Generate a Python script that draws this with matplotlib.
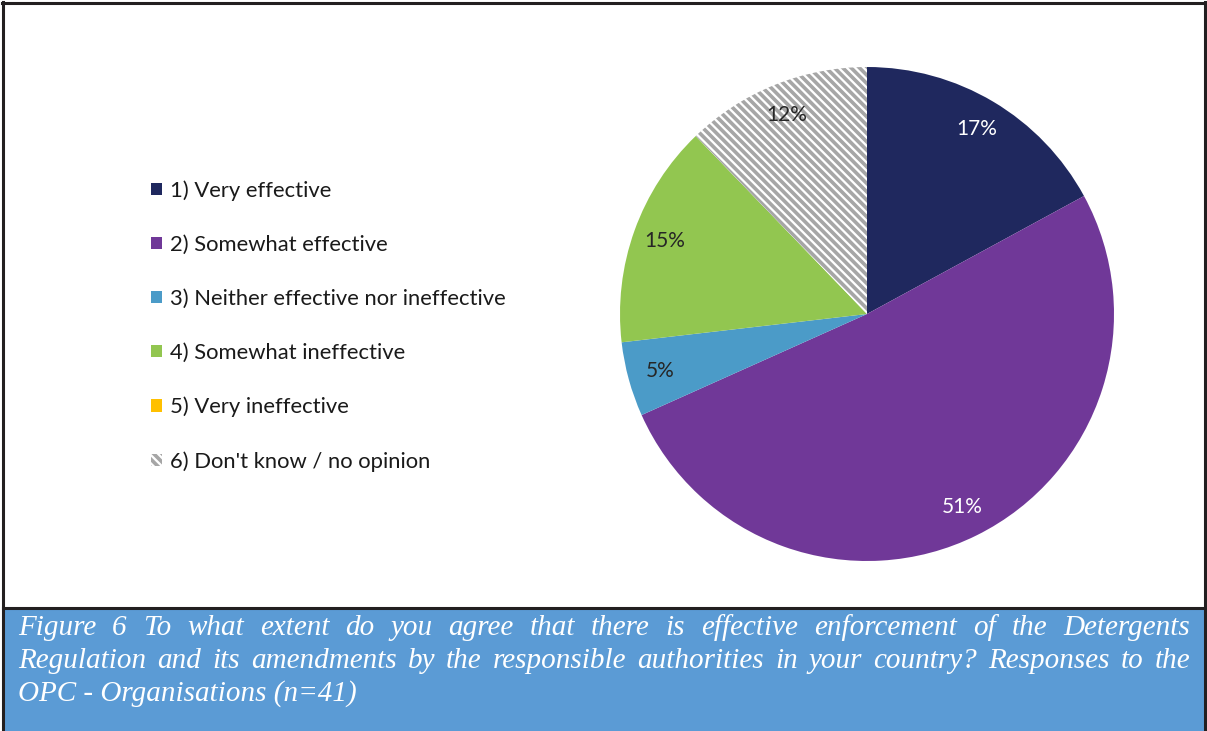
import matplotlib
matplotlib.use("Agg")
import matplotlib.pyplot as plt
from matplotlib.patches import Rectangle

# ---- data ----
categories = ["1) Very effective", "2) Somewhat effective",
              "3) Neither effective nor ineffective", "4) Somewhat ineffective",
              "5) Very ineffective", "6) Don't know / no opinion"]
counts = [7, 21, 2, 6, 0, 5]
colors = ["#1F285E", "#703898", "#4B9BC8", "#92C650", "#FFC000", "#FFFFFF"]
label_colors = ["white", "white", "#262626", "#262626", "#262626", "#262626"]
caption_lines = [
    "Figure 6 To what extent do you agree that there is effective enforcement of the Detergents",
    "Regulation and its amendments by the responsible authorities in your country? Responses to the",
    "OPC - Organisations (n=41)",
]

W, H = 1207, 731
plt.rcParams['hatch.linewidth'] = 2.6
fig = plt.figure(figsize=(W / 100, H / 100), dpi=100)

def px(x, y, w, h):
    return [x / W, 1 - (y + h) / H, w / W, h / H]

# background frame
bg = fig.add_axes([0, 0, 1, 1])
bg.set_xlim(0, W); bg.set_ylim(H, 0); bg.axis('off')
bg.add_patch(Rectangle((3, 608), 1202, 130, facecolor="#5B9BD5", edgecolor="none"))
bg.plot([3, 3], [2, H], color="#231F20", lw=2.2)
bg.plot([2, 1205], [3, 3], color="#231F20", lw=2.2)
bg.plot([1205, 1205], [2, H], color="#231F20", lw=2.2)
bg.plot([3, 1205], [607.5, 607.5], color="#231F20", lw=2.2)

# pie
cx, cy, R = 867, 314, 247
half = 252
ax = fig.add_axes(px(cx - half, cy - half, 2 * half, 2 * half))

def fmt(p):
    return "" if p < 0.5 else f"{p:.0f}%"

wedges, texts, autotexts = ax.pie(counts, colors=colors, startangle=90, counterclock=False,
                                  autopct=fmt, pctdistance=0.87,
                                  wedgeprops=dict(linewidth=0),
                                  textprops=dict(fontsize=15, family="Lato"))
ax.set_xlim(-half / R, half / R); ax.set_ylim(-half / R, half / R)
ax.set_aspect('equal'); ax.axis('off')
for t, c in zip(autotexts, label_colors):
    t.set_color(c)
hw = wedges[5]
hw.set_hatch('\\\\\\\\')
hw.set_edgecolor("#A6A6A6")
hw.set_linewidth(0)

# legend
leg = fig.legend(wedges, categories, loc='upper left',
                 bbox_to_anchor=(151 / W, 1 - 180 / H), frameon=False,
                 prop=dict(family="Lato", size=15.8), labelcolor="#1a1a1a",
                 handlelength=0.5, handleheight=0.5, handletextpad=0.35,
                 labelspacing=1.55, borderpad=0, borderaxespad=0)

# caption, justified
fig.canvas.draw()
r = fig.canvas.get_renderer()
left, right = 18, 1190
baselines = [635, 668, 701]
fs = 21
for i, line in enumerate(caption_lines):
    words = line.split(" ")
    if i < len(caption_lines) - 1:
        ts = [bg.text(0, baselines[i], w, fontsize=fs, family="Liberation Serif",
                      style="italic", color="white", va="baseline") for w in words]
        widths = [t.get_window_extent(r).width for t in ts]
        gap = (right - left - sum(widths)) / (len(words) - 1)
        x = left
        for t, w in zip(ts, widths):
            t.set_x(x)
            x += w + gap
    else:
        bg.text(left, baselines[i], line, fontsize=fs, family="Liberation Serif",
                style="italic", color="white", va="baseline")

fig.savefig("out.png", dpi=100)
